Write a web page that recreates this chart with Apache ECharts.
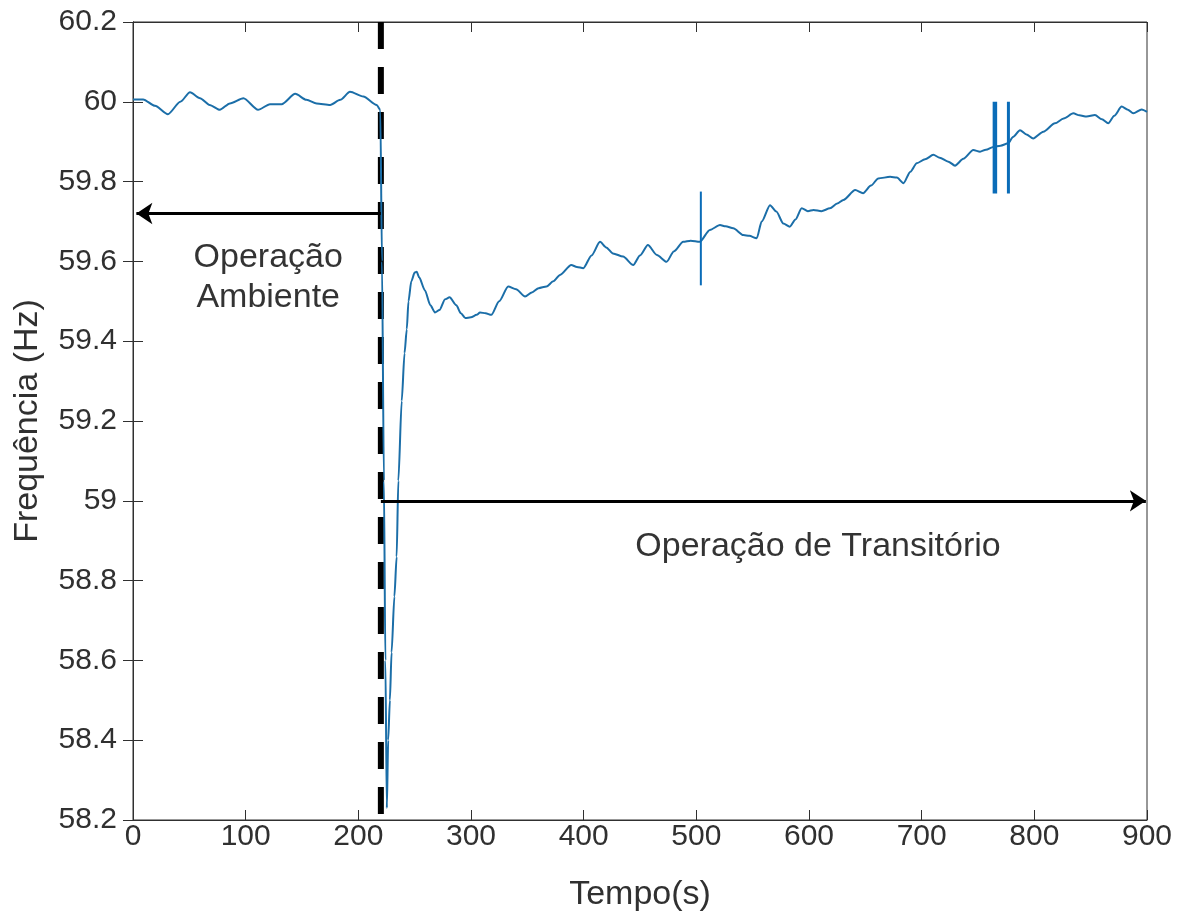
<!DOCTYPE html>
<html>
<head>
<meta charset="utf-8">
<script src="https://cdn.jsdelivr.net/npm/echarts@6/dist/echarts.min.js"></script>
<style>
  html, body { margin: 0; padding: 0; background: #fff; }
  #chart { width: 1187px; height: 920px; }
</style>
</head>
<body>
<div id="chart"></div>
<script>
  // dados
  var time = [0, 9, 19.5, 31, 42, 50.6, 59.5, 68, 77, 86, 98, 111, 121.6, 132, 144, 154, 163, 175, 184, 192.6, 204.4, 216.3, 219.5,
    221, 222.7, 224, 225.3, 226.5, 228, 229.5, 232, 234, 235.5, 238.5, 241, 243, 244.5, 247, 250, 251.8, 254, 259, 264, 268, 272,
    277, 281, 287, 291, 295, 300, 305, 308, 313, 318, 325, 333, 340, 348, 354, 360, 367, 373, 379, 389, 394, 399.7, 407, 414.5,
    420, 426, 435, 444, 450, 457, 465, 473.6, 480, 488.4, 495, 503, 512, 521, 526, 532.8, 541.7, 547, 553.6, 558, 565.4, 571,
    577.2, 583, 588, 593.5, 599, 604, 611, 618.6, 625, 630.5, 641, 648, 655, 661.5, 672, 678, 683.8, 690, 695.6, 703, 710.4, 716,
    723.7, 729.6, 737, 745.8, 751.8, 757, 763.6, 770, 776.9, 781, 787.3, 793, 799, 808, 818.3, 826, 834.6, 840, 846.4, 853.8, 860,
    865.6, 871, 877.5, 883, 887.8, 895.3, 900];
  var freq = [60.006, 60.006, 59.99, 59.969, 60.0, 60.024, 60.009, 59.992, 59.98, 59.996, 60.009, 59.98, 59.994, 59.994, 60.02,
    60.005, 59.996, 59.992, 60.005, 60.025, 60.013, 59.992, 59.98,
    59.6, 59.05, 58.6, 58.23, 58.4, 58.5, 58.62, 58.76, 58.86, 59.05, 59.25, 59.37, 59.43, 59.5, 59.55, 59.572, 59.574, 59.56,
    59.528, 59.49, 59.472, 59.478, 59.505, 59.51, 59.49, 59.47, 59.458, 59.46, 59.466, 59.472, 59.47, 59.466, 59.5, 59.537,
    59.53, 59.512, 59.522, 59.533, 59.537, 59.55, 59.566, 59.591, 59.586, 59.583, 59.615, 59.649, 59.635, 59.62, 59.612,
    59.591, 59.615, 59.641, 59.616, 59.599, 59.625, 59.649, 59.652, 59.649, 59.679, 59.691, 59.688, 59.683, 59.666, 59.664,
    59.658, 59.7, 59.741, 59.725, 59.695, 59.687, 59.705, 59.733, 59.726, 59.729, 59.726, 59.733, 59.745, 59.754, 59.779,
    59.771, 59.79, 59.808, 59.812, 59.81, 59.796, 59.825, 59.846, 59.856, 59.867, 59.86, 59.85, 59.84, 59.857, 59.879,
    59.875, 59.88, 59.887, 59.89, 59.896, 59.912, 59.929, 59.918, 59.908, 59.925, 59.946, 59.958, 59.971, 59.966, 59.963,
    59.967, 59.956, 59.946, 59.965, 59.988, 59.98, 59.971, 59.981, 59.975];

  // marcadores verticais azuis
  var markTimes = [504, 765, 777];
  var markLow = [59.54, 59.77, 59.77];
  var markHigh = [59.775, 60.0, 60.0];
  var markWidths = [2, 4.5, 3];

  // eixos
  var xRange = [0, 900, 100];
  var yRange = [58.2, 60.2, 0.2];

  // instante do evento e setas
  var eventTime = 220;
  var ambientArrow = [[220, 59.72], [3, 59.72]];
  var transientArrow = [[220, 59.0], [899, 59.0]];

  var txtColor = '#303030';
  var font = 'Liberation Sans';

  var chart = echarts.init(document.getElementById('chart'));

  var mainData = time.map(function (t, i) { return [t, freq[i]]; });

  var markSeries = markTimes.map(function (t, i) {
    return {
      type: 'line',
      data: [[t, markLow[i]], [t, markHigh[i]]],
      symbol: 'none',
      lineStyle: { color: '#0a6cb8', width: markWidths[i] },
      z: 4,
      silent: true
    };
  });

  var yFmt = function (v) { return String(+v.toFixed(1)); };

  var option = {
    animation: false,
    backgroundColor: '#fff',
    textStyle: { fontFamily: font },
    grid: {
      left: 133, right: 40, top: 22, bottom: 100,
      show: true, borderColor: txtColor, borderWidth: 1
    },
    xAxis: [{
      type: 'value',
      min: xRange[0], max: xRange[1], interval: xRange[2],
      name: 'Tempo(s)',
      nameLocation: 'middle',
      nameGap: 58,
      nameTextStyle: { fontSize: 34, color: txtColor, fontFamily: font },
      axisLine: { show: true, lineStyle: { color: txtColor, width: 1 } },
      axisTick: { show: true, inside: true, length: 10, lineStyle: { color: txtColor } },
      axisLabel: { fontSize: 30, color: txtColor, margin: 2, fontFamily: font },
      splitLine: { show: false }
    }, {
      type: 'value', position: 'top',
      min: xRange[0], max: xRange[1], interval: xRange[2],
      axisLine: { show: true, lineStyle: { color: txtColor, width: 1 } },
      axisTick: { show: true, inside: true, length: 10, lineStyle: { color: txtColor } },
      axisLabel: { show: false },
      splitLine: { show: false }
    }],
    yAxis: [{
      type: 'value',
      min: yRange[0], max: yRange[1], interval: yRange[2],
      name: 'Frequência (Hz)',
      nameLocation: 'middle',
      nameGap: 88,
      nameRotate: 90,
      nameTextStyle: { fontSize: 34, color: txtColor, fontFamily: font },
      axisLine: { show: true, lineStyle: { color: txtColor, width: 1 } },
      axisTick: { show: true, inside: true, length: 10, lineStyle: { color: txtColor } },
      axisLabel: { fontSize: 30, color: txtColor, margin: 16, formatter: yFmt, fontFamily: font },
      splitLine: { show: false }
    }, {
      type: 'value', position: 'right',
      min: yRange[0], max: yRange[1], interval: yRange[2],
      axisLine: { show: true, lineStyle: { color: txtColor, width: 1 } },
      axisTick: { show: true, inside: true, length: 10, lineStyle: { color: txtColor } },
      axisLabel: { show: false },
      splitLine: { show: false }
    }],
    series: [{
      // linha tracejada do evento
      type: 'line',
      data: [[eventTime, yRange[1]], [eventTime, yRange[0]]],
      symbol: 'none',
      lineStyle: { color: '#000', width: 6, type: [27, 18] },
      z: 2,
      silent: true
    }, {
      type: 'line',
      data: mainData,
      symbol: 'none',
      smooth: 0.25,
      smoothMonotone: 'x',
      lineStyle: { color: '#1b6ea8', width: 2 },
      z: 3,
      silent: true
    }].concat(markSeries).concat([{
      type: 'lines',
      coordinateSystem: 'cartesian2d',
      symbol: ['none', 'arrow'],
      symbolSize: 16,
      lineStyle: { color: '#000', width: 3, opacity: 1 },
      data: [{ coords: ambientArrow }, { coords: transientArrow }],
      z: 5,
      silent: true
    }, {
      type: 'scatter',
      symbolSize: 0,
      silent: true,
      data: [
        { value: [120, 59.56], label: { formatter: 'Operação\nAmbiente' } },
        { value: [608, 58.885], label: { formatter: 'Operação de Transitório' } }
      ],
      label: {
        show: true, position: 'inside', color: '#000',
        fontSize: 34, lineHeight: 40, fontFamily: font, align: 'center'
      },
      z: 6
    }])
  };

  chart.setOption(option);
</script>
</body>
</html>
